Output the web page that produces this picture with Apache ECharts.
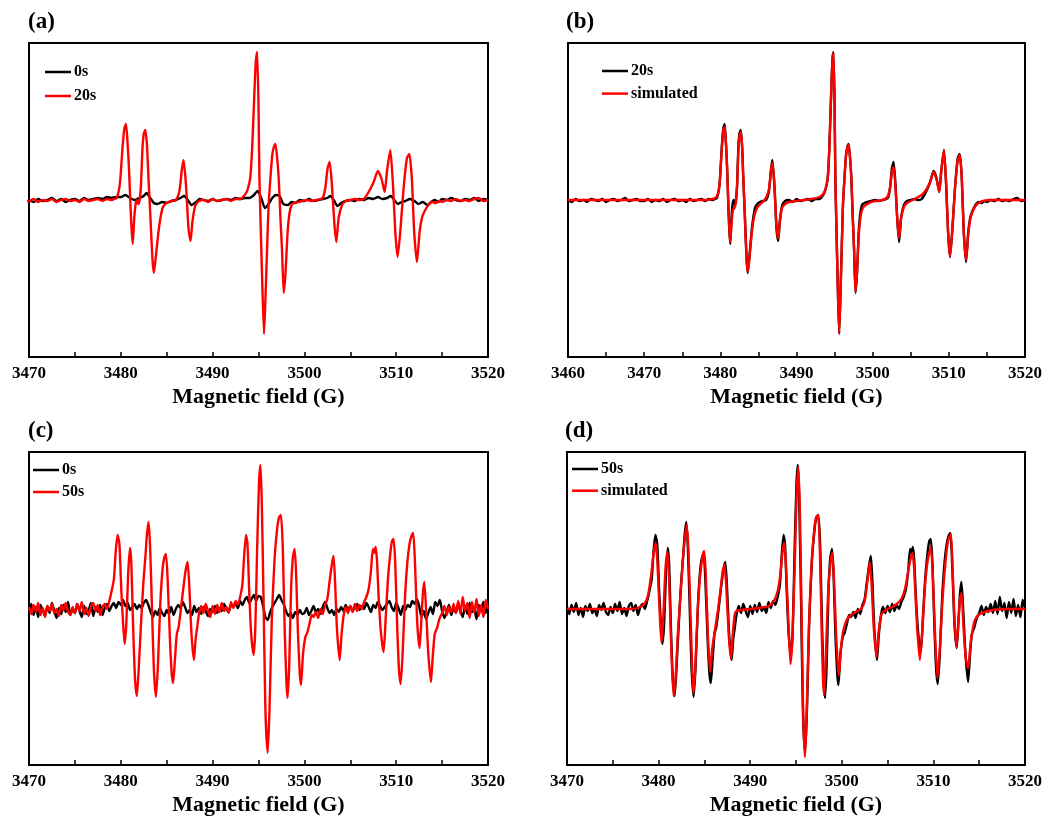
<!DOCTYPE html>
<html><head><meta charset="utf-8">
<script src="https://cdn.jsdelivr.net/npm/echarts@6/dist/echarts.min.js"></script>
<style>html,body{margin:0;padding:0;background:#fff}#c{width:1045px;height:821px}</style>
</head><body><div id="c"></div>
<script>
// ---------- DATA (field in G, intensity in a.u.) ----------
const panelLabels = ['(a)', '(b)', '(c)', '(d)'];
const axisTitle = 'Magnetic field (G)';
const fieldRanges = [[3470, 3520], [3460, 3520], [3470, 3520], [3470, 3520]];
const legendNames = [['0s', '20s'], ['20s', 'simulated'], ['0s', '50s'], ['50s', 'simulated']];

// 0 s spectrum, panel (a)
const spec0sA = [[3470,0],[3470.5,-2],[3471,1],[3471.5,-1],[3472,0],[3472.5,2],[3473,-1],[3473.5,1],[3474,-2],[3474.5,0],[3475,1],[3475.5,-1],[3476,2],[3476.5,0],[3477,1],[3477.5,2],[3478,1],[3478.5,3],[3479,2],[3479.5,3],[3480,3],[3480.5,5],[3481,2],[3481.5,0],[3482,2],[3482.5,4],[3482.8,7],[3483.2,2],[3483.6,-3],[3484,-4],[3484.5,-2],[3485,-3],[3485.5,-1],[3486,0],[3486.5,2],[3486.9,4],[3487.3,0],[3487.7,-5],[3488.2,-2],[3488.6,1],[3489,0],[3489.5,-1],[3490,1],[3490.5,-1],[3491,0],[3491.5,1],[3492,0],[3492.5,2],[3493,1],[3493.5,2],[3494,2],[3494.5,5],[3494.9,9],[3495.3,2],[3495.7,-8],[3496.1,-4],[3496.5,2],[3496.9,5],[3497.3,4],[3497.7,-4],[3498.2,-5],[3498.6,-2],[3499,-3],[3499.5,0],[3500,-1],[3500.5,1],[3501,-1],[3501.5,0],[3502,1],[3502.5,2],[3502.8,4],[3503.2,0],[3503.6,-6],[3504,-3],[3504.5,-1],[3505,0],[3505.5,-1],[3506,1],[3506.5,0],[3507,2],[3507.5,1],[3508,3],[3508.5,1],[3509,2],[3509.4,4],[3509.8,0],[3510.2,-4],[3510.6,-2],[3511,-1],[3511.5,1],[3512,-1],[3512.4,-4],[3512.9,-2],[3513.4,-5],[3513.8,-2],[3514.2,0],[3514.6,-2],[3515,1],[3515.5,0],[3516,2],[3516.5,0],[3517,-1],[3517.5,1],[3518,0],[3518.5,2],[3519,-1],[3519.5,1],[3520,0]];

// 20 s spectrum (panel a red, panel b black)
const spec20s = [[3460,0],[3460.5,-2],[3461,1],[3461.5,-1],[3462,0],[3462.5,-2],[3463,1],[3463.5,0],[3464,-1],[3464.5,1],[3465,-2],[3465.5,0],[3466,1],[3466.5,-1],[3467,0],[3467.5,2],[3468,-1],[3468.5,0],[3469,1],[3469.5,-1],
[3470,-1],[3470.5,1],[3471,-2],[3471.5,0],[3472,-1],[3472.5,1],[3473,-2],[3473.5,0],[3474,1],[3474.5,-1],[3475,0],[3475.5,-2],[3476,1],[3476.5,-1],[3477,0],[3477.5,1],[3478,-1],[3478.5,1],[3479,0],[3479.3,1],
[3479.55,2],[3479.8,10],[3479.95,21],[3480.2,54],[3480.4,72],[3480.57,76],[3480.75,55],[3480.9,30],[3481.05,-5],[3481.18,-30],[3481.3,-44],[3481.45,-20],[3481.6,-5],[3481.75,0],[3481.9,-4],[3482.05,0],[3482.2,15],[3482.35,50],[3482.5,66],[3482.67,70],[3482.85,55],[3483.0,25],[3483.2,-12],[3483.44,-58],[3483.6,-73],[3483.8,-58],[3484.1,-32],[3484.3,-19],[3484.55,-8],[3484.85,-4],[3485.2,-2],[3485.6,-1],[3486.0,0],[3486.37,8],[3486.66,31],[3486.84,40],[3487.1,15],[3487.38,-29],[3487.6,-41],[3487.8,-22],[3488.1,-6],[3488.5,-1],[3489,0],[3489.5,-2],[3490,1],[3490.5,-1],[3491,0],[3491.5,1],[3492,-1],[3492.5,1],[3493,1],[3493.5,5],[3493.8,10],[3494.1,22],[3494.3,50],[3494.5,95],[3494.7,138],[3494.85,148],[3495.0,95],[3495.1,22],[3495.25,-30],[3495.4,-80],[3495.6,-134],[3495.75,-100],[3495.95,-45],[3496.1,-5],[3496.3,22],[3496.5,45],[3496.7,54],[3496.85,56],[3497.05,40],[3497.2,22],[3497.4,-20],[3497.56,-50],[3497.75,-93],[3497.95,-72],[3498.15,-35],[3498.35,-15],[3498.6,-5],[3498.9,-3],[3499.3,-2],[3499.8,-1],[3500.3,0],[3500.8,-1],[3501.3,0],[3501.8,1],[3502.05,3],[3502.28,12],[3502.53,32],[3502.75,38],[3503.0,15],[3503.25,-22],[3503.47,-42],[3503.73,-18],[3504.1,-5],[3504.5,-1],[3505,0],[3505.5,1],[3506,0],[3506.45,1],[3507.0,8],[3507.55,18],[3508.0,29],[3508.38,22],[3508.74,8],[3509.0,29],[3509.36,50],[3509.65,15],[3509.9,-32],[3510.15,-57],[3510.44,-32],[3510.8,11],[3511.17,42],[3511.43,46],[3511.7,22],[3511.96,-32],[3512.26,-62],[3512.55,-32],[3512.8,-18],[3513.05,-12],[3513.5,-5],[3513.9,-2],[3514.3,-3],[3514.7,-1],[3515,-2],[3515.5,0],[3516,-1],[3516.5,1],[3517,-1],[3517.5,0],[3518,-1],[3518.5,1],[3519,2],[3519.5,-1],[3520,0]];

// simulated spectrum for 20 s, panel (b)
const sim20s = [[3460,0],[3478,0],[3479,1],[3479.5,3],[3479.8,10],[3479.95,20],[3480.2,52],[3480.4,70],[3480.57,73],[3480.75,55],[3480.9,30],[3481.05,-5],[3481.18,-30],[3481.3,-42],[3481.45,-26],[3481.65,-10],[3481.85,-8],[3482.05,-2],[3482.2,14],[3482.35,46],[3482.5,63],[3482.67,68],[3482.85,55],[3483.0,25],[3483.2,-12],[3483.44,-58],[3483.6,-72],[3483.8,-60],[3484.1,-35],[3484.4,-18],[3484.7,-10],[3485.0,-6],[3485.4,-3],[3485.8,0],[3486.1,4],[3486.37,10],[3486.66,30],[3486.84,37],[3487.1,14],[3487.38,-28],[3487.6,-38],[3487.8,-22],[3488.1,-8],[3488.5,-4],[3489,-2],[3490,-1],[3491,0],[3492,1],[3493,3],[3493.5,6],[3493.8,11],[3494.1,22],[3494.3,50],[3494.5,95],[3494.7,137],[3494.85,147],[3495.0,95],[3495.1,22],[3495.25,-30],[3495.4,-80],[3495.6,-133],[3495.75,-100],[3495.95,-45],[3496.1,-5],[3496.3,22],[3496.5,44],[3496.7,53],[3496.85,55],[3497.05,40],[3497.2,22],[3497.4,-20],[3497.56,-50],[3497.75,-92],[3497.95,-72],[3498.15,-38],[3498.35,-20],[3498.6,-10],[3498.9,-6],[3499.3,-4],[3499.8,-2],[3500.5,-1],[3501.3,0],[3501.8,2],[3502.05,5],[3502.28,12],[3502.53,28],[3502.75,33],[3503.0,12],[3503.25,-22],[3503.47,-38],[3503.73,-18],[3504.1,-7],[3504.5,-3],[3505,-1],[3505.5,1],[3506,3],[3506.45,5],[3507.0,10],[3507.55,18],[3508.0,28],[3508.38,21],[3508.74,8],[3509.0,28],[3509.36,50],[3509.65,15],[3509.9,-32],[3510.15,-57],[3510.44,-32],[3510.8,11],[3511.17,40],[3511.43,45],[3511.7,22],[3511.96,-32],[3512.26,-60],[3512.55,-34],[3512.8,-20],[3513.05,-13],[3513.5,-6],[3513.9,-3],[3514.5,-1],[3515.5,0],[3520,0]];

// 0 s spectrum, panel (c): values sampled every 0.25 G from 3470 G
const spec0sCStart = 3470;
const spec0sCStep = 0.25;
const spec0sC = [-3,5,-6,2,-8,4,-1,-7,3,-4,6,-2,-9,1,-5,4,-3,7,-6,0,-4,
5,-2,-8,3,-5,-1,6,-7,2,-3,4,-6,1,5,-2,3,6,1,7,4,
9,3,6,-1,2,5,0,4,1,6,9,4,-3,-8,-2,-6,1,-4,-7,-1,
-5,2,-6,0,4,1,7,2,-4,-1,-6,3,-3,1,-5,2,-2,-7,0,-3,
3,-4,1,-2,5,0,-3,4,2,6,1,8,4,9,12,6,10,14,8,13,
12,3,-8,-11,-4,2,6,10,14,9,5,-2,-7,-4,-9,-3,-6,-1,-5,-4,
1,-6,-2,3,-3,0,-5,2,7,1,-4,-1,-6,0,-3,2,-2,4,-1,3,
-2,1,5,-1,3,0,6,2,-3,4,1,7,3,-1,2,5,8,2,-2,6,
1,-6,3,-1,4,2,8,5,10,3,-8,-2,-10,-4,2,-5,7,3,9,-2,
-9,-3,4,-6,1,-4,5,-2,-8,3,-5,6,-3,0,-10,4,-2,7,-4,5];

// 50 s spectrum (panel c red, panel d black)
const spec50s = [[3470,2],[3470.25,-5],[3470.5,4],[3470.75,-3],[3471,6],[3471.25,-6],[3471.5,1],[3471.75,-8],[3472,3],[3472.25,-2],[3472.5,5],[3472.75,-4],[3473,0],[3473.25,-7],[3473.5,4],[3473.75,-1],[3474,6],[3474.25,-3],[3474.5,-6],[3474.75,2],[3475,-4],[3475.25,5],[3475.5,-2],[3475.75,7],[3476,-5],[3476.25,1],[3476.5,-7],[3476.75,3],[3477,6],[3477.25,-2],[3477.5,4],[3477.75,-6],[3478,2],[3478.25,5],[3478.5,0],[3478.75,8],
[3479.0,18],[3479.25,30],[3479.45,58],[3479.65,74],[3479.85,65],[3480.05,20],[3480.25,-15],[3480.42,-35],[3480.6,-15],[3480.8,35],[3481.0,61],[3481.15,45],[3481.35,-20],[3481.55,-70],[3481.75,-87],[3481.95,-60],[3482.2,-15],[3482.45,25],[3482.7,55],[3482.85,75],[3483.03,87],[3483.2,60],[3483.4,0],[3483.6,-60],[3483.83,-88],[3484.05,-55],[3484.3,5],[3484.55,40],[3484.75,52],[3484.92,55],[3485.1,30],[3485.35,-30],[3485.55,-65],[3485.7,-74],[3485.9,-50],[3486.1,-25],[3486.3,-18],[3486.55,0],[3486.8,20],[3487.05,38],[3487.28,47],[3487.45,25],[3487.7,-25],[3487.97,-51],[3488.15,-30],[3488.3,-20],[3488.5,-6],[3488.75,3],
[3489,-4],[3489.25,5],[3489.5,-2],[3489.75,-8],[3490,3],[3490.25,-5],[3490.5,4],[3490.75,-3],[3491,6],[3491.25,-2],[3491.5,2],[3491.75,-4],[3492,7],[3492.25,1],[3492.5,8],[3492.75,4],
[3493.0,12],[3493.25,25],[3493.45,55],[3493.64,74],[3493.8,65],[3494.0,15],[3494.2,-25],[3494.47,-46],[3494.65,-20],[3494.85,60],[3495.05,125],[3495.2,144],[3495.35,110],[3495.55,10],[3495.75,-100],[3496.0,-144],[3496.2,-100],[3496.45,-10],[3496.75,50],[3497.05,82],[3497.25,92],[3497.45,94],[3497.65,60],[3497.85,-20],[3498.05,-75],[3498.17,-89],[3498.35,-55],[3498.55,20],[3498.75,52],[3498.94,60],[3499.1,35],[3499.3,-25],[3499.5,-65],[3499.63,-76],[3499.85,-45],[3500.1,-28],[3500.3,-24],[3500.55,-15],[3500.8,-6],
[3501,-8],[3501.25,-3],[3501.5,-9],[3501.75,0],[3502,-5],[3502.25,4],[3502.5,10],
[3502.75,28],[3503.0,45],[3503.18,53],[3503.35,25],[3503.55,-20],[3503.84,-51],[3504.05,-25],[3504.3,-5],[3504.5,2],
[3504.75,-4],[3505,3],[3505.25,-3],[3505.5,5],[3505.75,-2],[3506,4],[3506.25,0],[3506.5,7],[3506.75,12],
[3507.0,20],[3507.25,38],[3507.45,60],[3507.6,56],[3507.75,62],[3507.9,50],[3508.1,10],[3508.35,-25],[3508.63,-43],[3508.85,-10],[3509.1,30],[3509.35,55],[3509.55,68],[3509.72,70],[3509.9,45],[3510.1,-15],[3510.3,-60],[3510.48,-75],[3510.7,-45],[3510.95,10],[3511.2,45],[3511.45,65],[3511.7,74],[3511.86,76],[3512.05,45],[3512.3,-15],[3512.55,-39],[3512.75,-10],[3512.9,15],[3513.06,27],[3513.25,0],[3513.5,-45],[3513.79,-73],[3514.0,-45],[3514.2,-25],[3514.45,-19],[3514.7,-10],[3515.0,-4],
[3515.25,3],[3515.5,-6],[3515.75,2],[3516,-3],[3516.25,5],[3516.5,-4],[3516.75,8],[3517,-5],[3517.25,12],[3517.5,-2],[3517.75,6],[3518,-9],[3518.25,7],[3518.5,-4],[3518.75,10],[3519,-7],[3519.25,4],[3519.5,-8],[3519.75,9],[3520,0]];

// simulated spectrum for 50 s, panel (d)
const sim50s = [[3470,0],[3477,0],[3478,2],[3478.5,6],[3478.86,14],[3479.2,35],[3479.45,55],[3479.66,66],[3479.85,50],[3480.1,0],[3480.31,-34],[3480.5,-10],[3480.75,40],[3480.97,57],[3481.15,30],[3481.35,-30],[3481.63,-87],[3481.85,-70],[3482.1,-25],[3482.4,15],[3482.7,55],[3483.05,84],[3483.25,60],[3483.5,-10],[3483.8,-84],[3484.0,-60],[3484.25,-5],[3484.5,30],[3484.75,50],[3484.97,58],[3485.15,35],[3485.4,-30],[3485.63,-63],[3485.85,-40],[3486.2,-18],[3486.5,0],[3486.8,22],[3487.0,38],[3487.19,44],[3487.4,20],[3487.65,-25],[3487.89,-50],[3488.1,-25],[3488.3,-6],[3488.5,-2],[3489,-1],[3490,0],[3491,1],[3492,3],[3492.6,8],[3493.0,18],[3493.3,35],[3493.5,55],[3493.71,66],[3493.9,45],[3494.15,-10],[3494.4,-55],[3494.6,-30],[3494.85,40],[3495.05,110],[3495.24,142],[3495.42,100],[3495.6,0],[3495.8,-110],[3495.97,-148],[3496.15,-110],[3496.4,-20],[3496.7,45],[3497.0,80],[3497.2,92],[3497.42,94],[3497.6,60],[3497.8,-20],[3497.95,-70],[3498.08,-86],[3498.25,-50],[3498.5,15],[3498.75,45],[3498.95,56],[3499.15,30],[3499.4,-30],[3499.6,-60],[3499.68,-66],[3499.9,-40],[3500.1,-25],[3500.33,-16],[3500.6,-10],[3501.0,-6],[3501.5,-3],[3502.1,0],[3502.5,8],[3502.8,28],[3503.06,47],[3503.25,25],[3503.5,-20],[3503.79,-48],[3504.0,-25],[3504.25,-8],[3504.5,-3],[3505.0,0],[3505.5,2],[3506.0,5],[3506.5,10],[3506.9,20],[3507.2,35],[3507.5,50],[3507.72,56],[3507.9,40],[3508.2,-15],[3508.52,-51],[3508.8,-20],[3509.1,25],[3509.4,50],[3509.72,62],[3509.95,30],[3510.2,-30],[3510.45,-69],[3510.7,-40],[3511.0,10],[3511.3,45],[3511.6,68],[3511.91,75],[3512.1,40],[3512.3,-10],[3512.52,-38],[3512.75,-10],[3512.9,10],[3513.07,16],[3513.3,-20],[3513.55,-50],[3513.8,-59],[3514.05,-35],[3514.3,-20],[3514.5,-12],[3514.9,-6],[3515.6,-3],[3516.5,-1],[3518,0],[3520,0]];

// ---------- CHART ----------
const FONT = '"Liberation Serif", "Times New Roman", serif';
const spec0sCPairs = spec0sC.map((v, i) => [spec0sCStart + i * spec0sCStep, v]);
const panelSeries = [
  [spec0sA, spec20s], [spec20s, sim20s], [spec0sCPairs, spec50s], [spec50s, sim50s]
];
const grids = [
  {left: 29, top: 43, width: 459, height: 314},
  {left: 568, top: 43, width: 457, height: 314},
  {left: 29, top: 452, width: 459, height: 313},
  {left: 567, top: 452, width: 458, height: 313}
];
const yRanges = [[-157, 157], [-157, 157], [-156, 157], [-156, 157]];
const legendPos = [
  {left: 45, top: 64, gap: 24}, {left: 602, top: 63, gap: 22.6},
  {left: 33, top: 462, gap: 22}, {left: 572, top: 461, gap: 21.7}
];
const labelPos = [{left: 28, top: 11}, {left: 566, top: 11}, {left: 28, top: 420}, {left: 565, top: 420}];
const colors = ['#000000', '#ff0000'];
const ITEM_H = 16;

const option = {
  animation: false,
  backgroundColor: '#fff',
  grid: grids.map(g => Object.assign({show: true, borderColor: '#000', borderWidth: 2, backgroundColor: 'transparent', containLabel: false}, g)),
  title: panelLabels.map((t, i) => ({text: t, left: labelPos[i].left, top: labelPos[i].top, padding: 0,
    textStyle: {fontFamily: FONT, fontWeight: 'bold', fontSize: 23, color: '#000'}})),
  xAxis: fieldRanges.map((r, i) => ({
    type: 'value', gridIndex: i, min: r[0], max: r[1], interval: 10,
    axisLine: {show: true, onZero: false, lineStyle: {color: '#000', width: 2}},
    axisTick: {show: true, inside: true, length: 5, lineStyle: {color: '#000', width: 1.5}},
    minorTick: {show: true, splitNumber: 2, length: 5, lineStyle: {color: '#000', width: 1.5}},
    splitLine: {show: false},
    axisLabel: {color: '#000', fontFamily: FONT, fontWeight: 'bold', fontSize: 17, margin: 8,
      showMinLabel: true, showMaxLabel: true, formatter: v => String(v)},
    name: axisTitle, nameLocation: 'middle', nameGap: 29,
    nameTextStyle: {color: '#000', fontFamily: FONT, fontWeight: 'bold', fontSize: 22}
  })),
  yAxis: yRanges.map((r, i) => ({type: 'value', gridIndex: i, min: r[0], max: r[1], show: false})),
  legend: legendNames.map((names, i) => ({
    orient: 'vertical', left: legendPos[i].left, top: legendPos[i].top,
    data: names.map(n => i + '|' + n),
    formatter: n => n.split('|')[1],
    icon: 'rect', itemWidth: 26, itemHeight: 2.5, itemGap: legendPos[i].gap - ITEM_H, padding: 0,
    textStyle: {color: '#000', fontFamily: FONT, fontWeight: 'bold', fontSize: 16, lineHeight: ITEM_H, padding: [0, 0, 0, -2]},
    selectedMode: false
  })),
  series: []
};
panelSeries.forEach((pair, i) => {
  pair.forEach((data, k) => {
    option.series.push({
      type: 'line', name: i + '|' + legendNames[i][k], xAxisIndex: i, yAxisIndex: i,
      data: data, showSymbol: false, symbol: 'none', smooth: 0.2,
      lineStyle: {color: colors[k], width: 2.4}, itemStyle: {color: colors[k]}, z: 2 + k
    });
  });
});
const chart = echarts.init(document.getElementById('c'), null, {renderer: 'canvas'});
chart.setOption(option);
</script></body></html>
